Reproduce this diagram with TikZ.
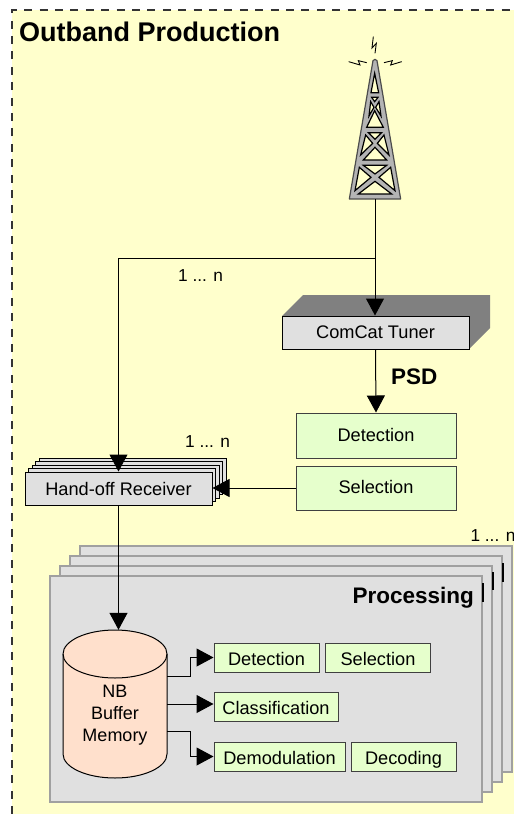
\documentclass[tikz,border=0pt]{standalone}
\usepackage{fontspec}
\setmainfont{Liberation Sans}
\usetikzlibrary{arrows.meta}
\definecolor{paper}{HTML}{FFFFCC}
\definecolor{plate}{HTML}{E0E0E0}
\definecolor{platebd}{HTML}{A0A0A0}
\definecolor{leaf}{HTML}{E6FFCC}
\definecolor{drum}{HTML}{FFE0CC}
\definecolor{mast}{HTML}{B4B4B4}
\definecolor{slab}{HTML}{808080}
\tikzset{
  x=1pt,y=-1pt,
  lab/.style={font=\fontsize{17.3}{20}\selectfont,text=black,inner sep=0pt},
  head/.style={font=\fontsize{22.5}{26}\selectfont\bfseries,text=black,inner sep=0pt},
  greenbox/.style={draw=black!75,line width=1pt,fill=leaf,minimum width=#1,inner sep=0pt,font=\fontsize{18.2}{20}\selectfont},
  upperfont/.style={text height=13pt,text depth=2pt},
  lowerfont/.style={text height=15.5pt,text depth=0pt},
  greybox/.style={draw=black,line width=1pt,fill=plate,inner sep=0pt,font=\fontsize{18.2}{20}\selectfont},
  sheet/.style={draw=platebd,line width=1.4pt,fill=plate},
  wire/.style={draw=black,line width=1pt},
  arr/.style={wire,-{Triangle[length=17pt,width=18pt]}},
  hole/.style={fill=paper,draw=black,line width=1.2pt,line join=miter},
  bolt/.style={draw=black,line width=.9pt},
  bar/.style={draw=black,line width=2pt},
}
\begin{document}
\begin{tikzpicture}
\useasboundingbox (0,0) rectangle (514,814);
\fill[white] (0,0) rectangle (514,814);
\fill[paper] (12,10) rectangle (514,814);
\draw[line width=1.2pt,black!80,dash pattern=on 8pt off 7.4pt] (12,814) -- (12,10) -- (514,10);
\node[head,font=\fontsize{27}{30}\selectfont\bfseries,anchor=base west] (title) at (19,41) {Outband Production};

% tower
\begin{scope}[shift={(300,20)},x=.3333pt,y=-.3333pt]
\filldraw[fill=mast,draw=black!70,line width=1.2pt,line join=round] (219,122) -- (225,118) -- (231,122) -- (302,537) -- (148,537) -- cycle;
\path[hole] (224,160) -- (236,218) -- (213,218) -- cycle;
\path[hole] (215,232) -- (234,232) -- (224,245) -- cycle;
\path[hole] (212,245) -- (222,262) -- (207,288) -- cycle;
\path[hole] (237,245) -- (227,262) -- (243,288) -- cycle;
\path[hole] (224,272) -- (250,322) -- (200,322) -- cycle;
\path[hole] (205,338) -- (245,338) -- (225,358) -- cycle;
\path[hole] (197,345) -- (218,370) -- (182,405) -- cycle;
\path[hole] (252,345) -- (232,370) -- (267,405) -- cycle;
\path[hole] (225,382) -- (260,420) -- (190,420) -- cycle;
\path[hole] (190,436) -- (260,436) -- (225,462) -- cycle;
\path[hole] (178,442) -- (213,472) -- (165,512) -- cycle;
\path[hole] (272,442) -- (237,472) -- (285,512) -- cycle;
\path[hole] (225,484) -- (275,522) -- (175,522) -- cycle;
\draw[bolt] (225,100) -- (229,70) -- (216,84) -- (220,50);
\draw[bolt] (200,128) -- (175,122) -- (180,135) -- (146,125);
\draw[bolt] (252,128) -- (277,122) -- (272,135) -- (305,125);
\end{scope}
\coordinate (towerbase) at (375,199);
\coordinate (fork) at (375,258);

% tuner
\fill[slab] (282,316) -- (303,295) -- (490,295) -- (490,328) -- (469,349) -- cycle;
\node[greybox,upperfont,minimum width=187pt,minimum height=33pt] (tuner) at (375.5,332.5) {ComCat Tuner};

% top detection / selection
\node[greenbox=160pt,upperfont,minimum height=45pt] (det0) at (376,435.5) {Detection};
\node[greenbox=160pt,upperfont,minimum height=44pt] (sel0) at (376,488) {Selection};

% hand-off stack
\foreach \d in {14,10.5,7,3.5}{
  \draw[line width=1pt,fill=plate] (25+\d,472-\d) rectangle (212+\d,505-\d);
}
\node[greybox,text height=13pt,text depth=0pt,minimum width=187pt,minimum height=33pt] (hand) at (118.5,488.5) {Hand-off Receiver};

\draw[wire] (towerbase) -- (fork);
\draw[arr] (fork) -- (fork |- tuner.north);
\draw[arr] (fork) -| (hand.north);
\draw[arr] (tuner.south) -- (det0.north);
\draw[arr] (sel0.west) -- (hand.east |- sel0.west);

\node[lab,anchor=base west] (n1) at (178,281) {1 ... n};
\node[lab,anchor=base west] (n2) at (185,447) {1 ... n};
\node[head,anchor=base west] (psd) at (391,384) {PSD};

% processing plates
\foreach \d in {30,20,10}{
  \draw[sheet] (50+\d,576-\d) rectangle (482+\d,802-\d);
}
\draw[bar] (502.5,563) -- (502.5,582);
\draw[bar] (492.5,572) -- (492.5,590);
\node[sheet,minimum width=432pt,minimum height=226pt,inner sep=0pt] (proc) at (266,689) {};
\draw[bar] (482.5,583) -- (482.5,602);
\node[head,anchor=base east] (ptitle) at (474,603) {Processing};
\node[lab,anchor=base west] (n3) at (470.3,541) {1 ... n};

% buffer
\draw[draw=black,line width=1pt,fill=drum] (63,654) arc[x radius=52pt,y radius=24pt,start angle=180,end angle=0] -- (167,754) arc[x radius=52pt,y radius=24pt,start angle=360,end angle=180] -- cycle;
\draw[draw=black,line width=1pt] (63,654) arc[x radius=52pt,y radius=24pt,start angle=180,end angle=360];
\node[minimum width=104pt,minimum height=148pt,inner sep=0pt] (mem) at (115,704) {};
\node[lab,align=center,font=\fontsize{18}{22}\selectfont] (memtext) at (115,715) {NB\\Buffer\\Memory};
\coordinate (memA) at (167,676);
\coordinate (memB) at (167,704);
\coordinate (memC) at (167,731);

\node[greenbox=105pt,lowerfont,minimum height=29pt] (det1) at (266.5,657.5) {Detection};
\node[greenbox=105pt,lowerfont,minimum height=29pt] (sel1) at (378,657.5) {Selection};
\node[greenbox=124pt,lowerfont,minimum height=29pt] (cls) at (276,707) {Classification};
\node[greenbox=131pt,lowerfont,minimum height=29pt] (dem) at (279.5,756.5) {Demodulation};
\node[greenbox=105pt,lowerfont,minimum height=29pt] (dec) at (403.5,756.5) {Decoding};

\draw[arr] (hand.south) -- (hand.south |- mem.north);
\draw[arr] (memA) -- (190,676) |- (det1.west);
\draw[arr] (memB) -- (memB -| cls.west);
\draw[arr] (memC) -- (190,731) |- (dem.west);
\end{tikzpicture}
\end{document}
